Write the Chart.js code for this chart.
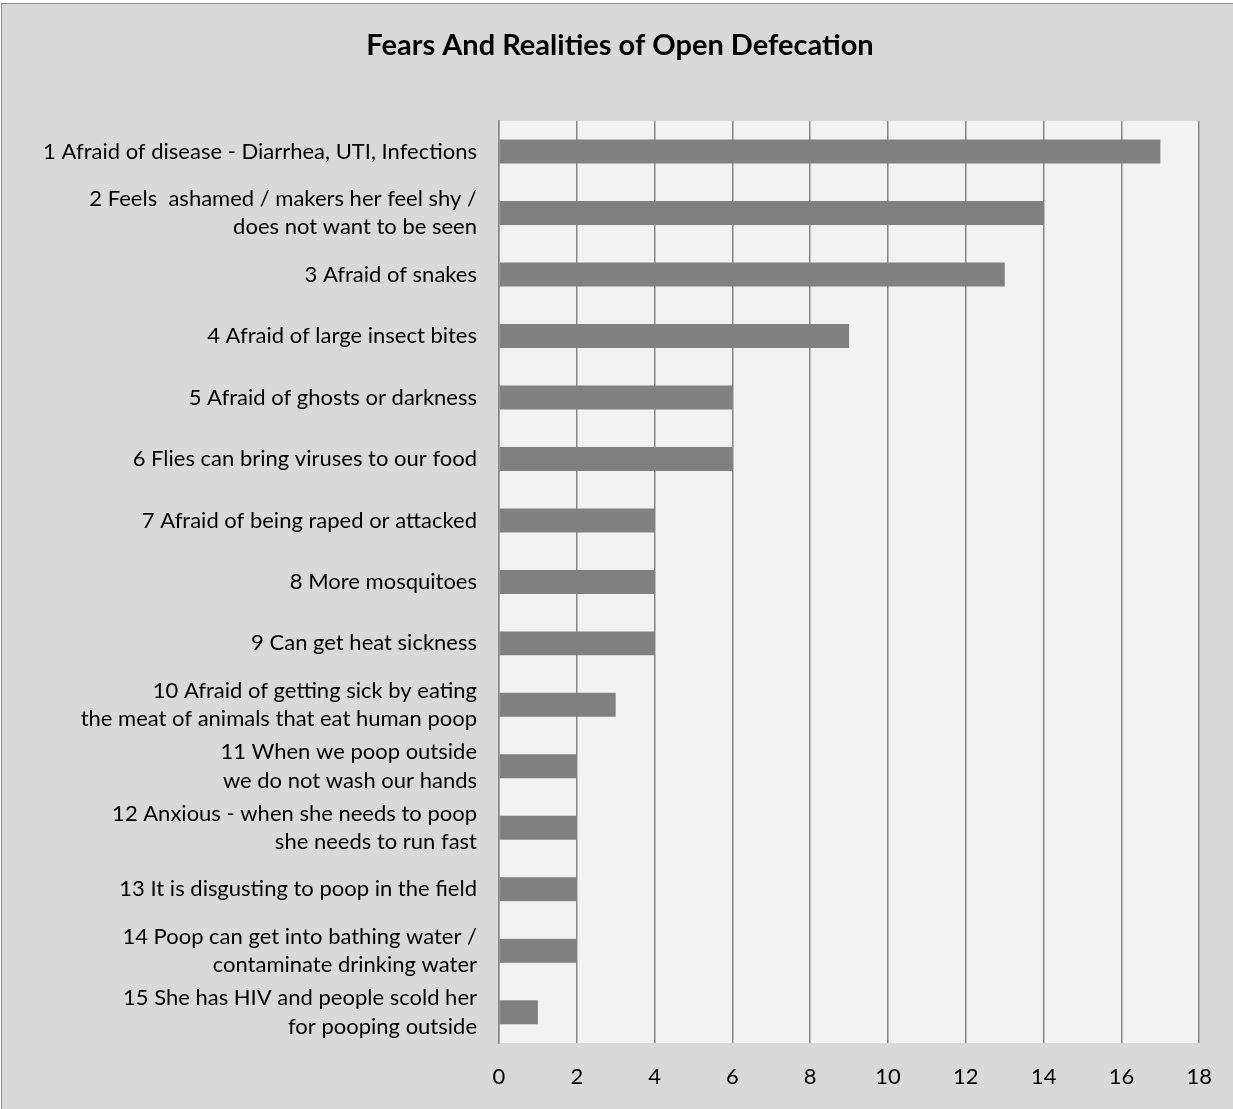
<!DOCTYPE html>
<html>
<head>
<meta charset="utf-8">
<script src="https://cdn.jsdelivr.net/npm/chart.js@4"></script>
<style>
    html, body { margin: 0; background: #fff; overflow: hidden; }
    #frame {
        position: absolute; left: 1px; top: 3px;
        width: 1250px; height: 1120px;
        background: #d9d9d9; border: 1px solid #8c8c8c;
    }
    #wrap { position: absolute; left: 0; top: 0; width: 1233px; height: 1109px; }
</style>
</head>
<body>
<div id="frame"></div>
<div id="wrap"><canvas id="fearChart"></canvas></div>
<script>
const categories = [
    '1 Afraid of disease - Diarrhea, UTI, Infections',
    ['2 Feels  ashamed / makers her feel shy /', 'does not want to be seen'],
    '3 Afraid of snakes',
    '4 Afraid of large insect bites',
    '5 Afraid of ghosts or darkness',
    '6 Flies can bring viruses to our food',
    '7 Afraid of being raped or attacked',
    '8 More mosquitoes',
    '9 Can get heat sickness',
    ['10 Afraid of getting sick by eating', 'the meat of animals that eat human poop'],
    ['11 When we poop outside', 'we do not wash our hands'],
    ['12 Anxious - when she needs to poop', 'she needs to run fast'],
    '13 It is disgusting to poop in the field',
    ['14 Poop can get into bathing water /', 'contaminate drinking water'],
    ['15 She has HIV and people scold her', 'for pooping outside']
];
const counts = [17, 14, 13, 9, 6, 6, 4, 4, 4, 3, 2, 2, 2, 2, 1];
const xMax = 18;
const xStep = 2;

const font = "Lato, 'Open Sans', sans-serif";
const gridColor = '#868686';

const plotBackground = {
    id: 'plotBackground',
    beforeDraw(chart) {
        const { ctx, chartArea: a } = chart;
        ctx.save();
        ctx.fillStyle = '#f2f2f2';
        ctx.fillRect(a.left, a.top, a.right - a.left, a.bottom - a.top);
        ctx.restore();
    }
};

new Chart(document.getElementById('fearChart'), {
    type: 'bar',
    data: {
        labels: categories,
        datasets: [{
            data: counts,
            backgroundColor: '#808080',
            barPercentage: 0.39,
            categoryPercentage: 1
        }]
    },
    options: {
        indexAxis: 'y',
        responsive: true,
        maintainAspectRatio: false,
        animation: false,
        layout: { padding: { top: 0, left: 38, right: 31, bottom: 0 } },
        scales: {
            x: {
                min: 0,
                max: xMax,
                ticks: { stepSize: xStep, color: '#000', padding: 21, font: { family: font, size: 22 } },
                grid: { color: gridColor, lineWidth: 1.5, drawTicks: false },
                border: { display: false },
                afterFit(scale) { scale.height = 66; }
            },
            y: {
                ticks: { color: '#000', padding: 22, font: { family: font, size: 22, lineHeight: 1.3 } },
                grid: { display: false, drawTicks: false },
                border: { display: true, color: gridColor, width: 1.5 },
                afterFit(scale) { scale.width = 461; }
            }
        },
        plugins: {
            legend: { display: false },
            tooltip: { enabled: false },
            title: {
                display: true,
                text: 'Fears And Realities of Open Defecation',
                color: '#000',
                font: { family: font, size: 29, weight: 'bold', lineHeight: 1.2 },
                padding: { top: 28, bottom: 58 }
            }
        }
    },
    plugins: [plotBackground]
});
</script>
</body>
</html>
